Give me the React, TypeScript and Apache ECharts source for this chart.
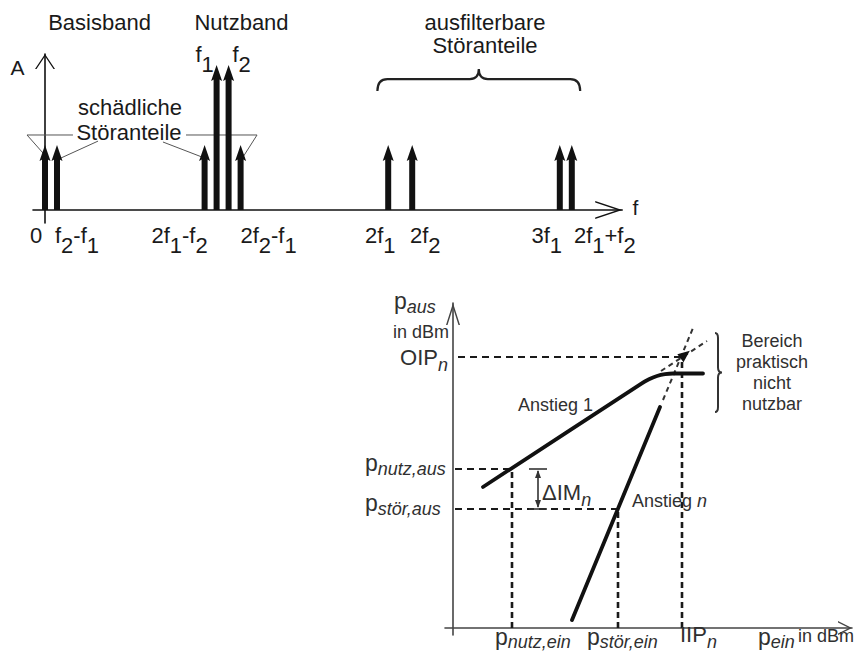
import { useEffect, useRef } from 'react';
import * as echarts from 'echarts';

const FF = "'Liberation Sans', Arial, Helvetica, sans-serif";
const INK = '#111111';
const TXT = '#1a1a1a';
const TXT2 = '#303030';

// ---------- upper diagram: spectrum (x in units of f2-f1, y = amplitude) ----------
const FREQS = [0, 1, 13.3, 14.3, 15.3, 16.3, 28.6, 30.6, 42.9, 43.9];
const AMPLITUDES = [1, 1, 1, 2.23, 2.23, 1, 1, 1, 1, 1];
const FREQ_LABELS = [
  '{m|0}',
  '{m|f}{s|2}{m|-f}{s|1}',
  '{m|2f}{s|1}{m|-f}{s|2}',
  '{m|f}{s|1}',
  '{m|f}{s|2}',
  '{m|2f}{s|2}{m|-f}{s|1}',
  '{m|2f}{s|1}',
  '{m|2f}{s|2}',
  '{m|3f}{s|1}',
  '{m|2f}{s|1}{m|+f}{s|2}',
];
// leader lines of "schädliche Störanteile" [x1, y1, x2, y2]
const HARMFUL_LEADERS = [
  [-1.5, 1.154, 2.33, 1.154],
  [11.75, 1.154, 17.67, 1.154],
  [-1.5, 1.154, -0.17, 0.877],
  [4.42, 1.06, 1.33, 0.8],
  [9.83, 1.046, 13.08, 0.815],
  [17.67, 1.154, 16.5, 0.815],
];
const FILTER_BRACE = [[27.7, 44.6, 1.83]];

// ---------- lower diagram: p_aus over p_ein (dBm, schematic) ----------
const LINE_1 = [[3.0, 14.1], [18.8, 24.42], [19.6, 24.88], [20.4, 25.2], [21.2, 25.38], [22.0, 25.45], [25.0, 25.45]];
const LINE_N = [[11.9, 0.8], [20.7, 22.1]];
const LINE_1_EXT = [20.8, 25.7, 25.4, 28.7];
const LINE_N_EXT = [21.0, 22.8, 24.0, 30.0];
const OIP = 27.1;
const IIP = 22.9;
const P_NUTZ_AUS = 15.9;
const P_NUTZ_EIN = 5.9;
const P_STOR_AUS = 11.9;
const P_STOR_EIN = 16.5;
const DELTA_IM = [[8.5, P_NUTZ_AUS, P_STOR_AUS, 7.6, 9.4]];
const UNUSABLE_BRACE = [[26.5, 29.5, 21.6]];
const Y_TICK_VALUES = [OIP, P_NUTZ_AUS, P_STOR_AUS];
const Y_TICK_LABELS = ['{P|OIP}{n|n}', '{p|p}{s|nutz,aus}', '{p|p}{s|stör,aus}'];
const X_TICK_VALUES = [P_NUTZ_EIN, P_STOR_EIN, IIP];
const X_TICK_LABELS = ['{p|p}{s|nutz,ein}', '{p|p}{s|stör,ein}', '{P|IIP}{n|n}'];

// layout of labels (pixels)
const TOP_LABEL_ABOVE = [false, false, false, true, true, false, false, false, false, false];
const TOP_LABEL_DX = [-9, 20, -25, -12, 13, 28, -8, 13, -13, 33];
const Y_LABEL_DX = [-5, -88, -88];
const Y_LABEL_ALIGN = ['right', 'left', 'left'];
const Y_LABEL_DY = [-10.4, -17.3, -17.3];
const X_LABEL_DX = [-17, -31, -2];
const X_LABEL_DY = [-2.8, -2.8, -4.4];

const TOP_RICH: any = {
  m: { fontSize: 22, fontFamily: FF, fill: TXT, verticalAlign: 'top' },
  s: { fontSize: 22, fontFamily: FF, fill: TXT, verticalAlign: 'top', padding: [10, 0, 0, 0] },
};
const BOT_RICH: any = {
  p: { fontSize: 23, fontFamily: FF, fill: TXT2, verticalAlign: 'top' },
  s: { fontSize: 18, fontFamily: FF, fontStyle: 'italic', fill: TXT2, verticalAlign: 'top', padding: [8, 0, 0, 0] },
  P: { fontSize: 22, fontFamily: FF, fill: TXT2, verticalAlign: 'top' },
  n: { fontSize: 18, fontFamily: FF, fontStyle: 'italic', fill: TXT2, verticalAlign: 'top', padding: [9, 0, 0, 0] },
  a: { fontSize: 18, fontFamily: FF, fill: TXT2, verticalAlign: 'top' },
  i: { fontSize: 18, fontFamily: FF, fontStyle: 'italic', fill: TXT2, verticalAlign: 'top' },
};

function chev(w: number, h: number, lw: number) {
  const H = (100 * h) / w;
  const t = (lw * 100) / w;
  const ti = (t * H) / 50;
  return `path://M0,${H}L50,0L100,${H}L${100 - t},${H}L50,${ti}L${t},${H}Z`;
}

function axisBase(extra: any) {
  return {
    type: 'value',
    axisTick: { show: false },
    axisLabel: { show: false },
    splitLine: { show: false },
    ...extra,
  };
}

function segSeries(grid: number, segs: number[][], style: any) {
  return {
    type: 'custom',
    xAxisIndex: grid,
    yAxisIndex: grid,
    silent: true,
    clip: false,
    data: segs,
    encode: { x: [0, 2], y: [1, 3] },
    renderItem: (_p: any, api: any) => {
      const a = api.coord([api.value(0), api.value(1)]);
      const b = api.coord([api.value(2), api.value(3)]);
      return { type: 'line', shape: { x1: a[0], y1: a[1], x2: b[0], y2: b[1] }, style: { ...style, fill: null } };
    },
  };
}

function txt(x: number, y: number, text: string, o: any = {}) {
  return {
    type: 'text',
    x,
    y,
    silent: true,
    z: 100,
    style: {
      text,
      fill: o.fill ?? TXT,
      fontSize: o.size ?? 22,
      fontFamily: FF,
      fontStyle: o.italic ? 'italic' : 'normal',
      align: o.align ?? 'center',
      verticalAlign: o.va ?? 'middle',
      rich: o.rich,
      lineHeight: o.lh,
    },
  };
}

export default function App() {
  const ref = useRef<HTMLDivElement>(null);

  useEffect(() => {
    if (!ref.current) return;
    const chart = echarts.init(ref.current, undefined, { renderer: 'svg' });

    const spikeSeries = {
      type: 'custom',
      xAxisIndex: 0,
      yAxisIndex: 0,
      silent: true,
      clip: false,
      data: FREQS.map((f, i) => [f, AMPLITUDES[i]]),
      encode: { x: 0, y: 1 },
      renderItem: (params: any, api: any) => {
        const i = params.dataIndex;
        const f = api.value(0);
        const a = api.value(1);
        const base = api.coord([f, 0]);
        const tip = api.coord([f, a]);
        const headLen = 16;
        const headW = 11;
        const shaftW = 6;
        return {
          type: 'group',
          children: [
            {
              type: 'rect',
              shape: { x: base[0] - shaftW / 2, y: tip[1] + headLen - 3, width: shaftW, height: base[1] - tip[1] - headLen + 3 },
              style: { fill: INK },
            },
            {
              type: 'polygon',
              shape: {
                points: [
                  [tip[0], tip[1]],
                  [tip[0] + headW / 2, tip[1] + headLen],
                  [tip[0], tip[1] + headLen - 3],
                  [tip[0] - headW / 2, tip[1] + headLen],
                ],
              },
              style: { fill: INK },
            },
            {
              type: 'text',
              x: base[0] + TOP_LABEL_DX[i],
              y: TOP_LABEL_ABOVE[i] ? tip[1] - 22 : base[1] + 14.5,
              style: {
                text: FREQ_LABELS[i],
                rich: TOP_RICH,
                align: 'center',
                verticalAlign: 'top',
                fill: TXT,
                fontSize: 22,
                fontFamily: FF,
              },
            },
          ],
        };
      },
    };

    const topBrace = {
      type: 'custom',
      xAxisIndex: 0,
      yAxisIndex: 0,
      silent: true,
      clip: false,
      data: FILTER_BRACE,
      encode: { x: [0, 1], y: 2 },
      renderItem: (_p: any, api: any) => {
        const a = api.coord([api.value(0), api.value(2)]);
        const b = api.coord([api.value(1), api.value(2)]);
        const xm = (a[0] + b[0]) / 2;
        const yb = a[1];
        const yl = yb - 12;
        const yt = yb - 22;
        const d = `M${a[0]},${yb} Q${a[0]},${yl} ${a[0] + 10},${yl} L${xm - 9},${yl} Q${xm},${yl} ${xm},${yt} Q${xm},${yl} ${xm + 9},${yl} L${b[0] - 10},${yl} Q${b[0]},${yl} ${b[0]},${yb}`;
        return { type: 'path', shape: { pathData: d }, style: { stroke: '#222', lineWidth: 2.2, fill: 'none' } };
      },
    };

    const rightBrace = {
      type: 'custom',
      xAxisIndex: 1,
      yAxisIndex: 1,
      silent: true,
      clip: false,
      data: UNUSABLE_BRACE,
      encode: { x: 0, y: [1, 2] },
      renderItem: (_p: any, api: any) => {
        const a = api.coord([api.value(0), api.value(1)]);
        const b = api.coord([api.value(0), api.value(2)]);
        const x = a[0];
        const ym = (a[1] + b[1]) / 2;
        const d = `M${x - 3},${a[1]} Q${x},${a[1]} ${x},${a[1] + 5} L${x},${ym - 5} Q${x},${ym} ${x + 4},${ym} Q${x},${ym} ${x},${ym + 5} L${x},${b[1] - 5} Q${x},${b[1]} ${x - 3},${b[1]}`;
        return { type: 'path', shape: { pathData: d }, style: { stroke: '#333', lineWidth: 2, fill: 'none' } };
      },
    };

    const deltaIm = {
      type: 'custom',
      xAxisIndex: 1,
      yAxisIndex: 1,
      silent: true,
      clip: false,
      data: DELTA_IM,
      encode: { x: [0, 3, 4], y: [1, 2] },
      renderItem: (_p: any, api: any) => {
        const t = api.coord([api.value(0), api.value(1)]);
        const b = api.coord([api.value(0), api.value(2)]);
        const c1 = api.coord([api.value(3), api.value(1)]);
        const c2 = api.coord([api.value(4), api.value(1)]);
        const x = t[0];
        const st = { stroke: '#333', lineWidth: 1.6 };
        return {
          type: 'group',
          children: [
            { type: 'line', shape: { x1: c1[0], y1: t[1], x2: c2[0], y2: t[1] }, style: st },
            { type: 'line', shape: { x1: c1[0], y1: b[1], x2: c2[0], y2: b[1] }, style: st },
            { type: 'line', shape: { x1: x, y1: t[1] + 2, x2: x, y2: b[1] - 2 }, style: st },
            { type: 'polygon', shape: { points: [[x, t[1] + 1], [x + 3, t[1] + 9], [x - 3, t[1] + 9]] }, style: { fill: '#333' } },
            { type: 'polygon', shape: { points: [[x, b[1] - 1], [x + 3, b[1] - 9], [x - 3, b[1] - 9]] }, style: { fill: '#333' } },
          ],
        };
      },
    };

    const interceptMark = {
      type: 'custom',
      xAxisIndex: 1,
      yAxisIndex: 1,
      silent: true,
      clip: false,
      data: [[IIP, OIP]],
      encode: { x: 0, y: 1 },
      renderItem: (_p: any, api: any) => {
        const p = api.coord([api.value(0), api.value(1)]);
        const u = [0.78, -0.62];
        const v = [0.62, 0.78];
        const pts = [
          [p[0] + 10 * u[0], p[1] + 10 * u[1]],
          [p[0] - 2 * u[0] + 5 * v[0], p[1] - 2 * u[1] + 5 * v[1]],
          [p[0] - 2 * u[0] - 5 * v[0], p[1] - 2 * u[1] - 5 * v[1]],
        ];
        return { type: 'polygon', shape: { points: pts }, style: { fill: INK } };
      },
    };

    const yTickLabels = {
      type: 'custom',
      xAxisIndex: 1,
      yAxisIndex: 1,
      silent: true,
      clip: false,
      data: Y_TICK_VALUES.map((v) => [0, v]),
      encode: { x: 0, y: 1 },
      renderItem: (params: any, api: any) => {
        const i = params.dataIndex;
        const pt = api.coord([api.value(0), api.value(1)]);
        return {
          type: 'text',
          x: pt[0] + Y_LABEL_DX[i],
          y: pt[1] + Y_LABEL_DY[i],
          style: { text: Y_TICK_LABELS[i], rich: BOT_RICH, align: Y_LABEL_ALIGN[i], verticalAlign: 'top', fill: TXT2, fontSize: 22, fontFamily: FF },
        };
      },
    };

    const xTickLabels = {
      type: 'custom',
      xAxisIndex: 1,
      yAxisIndex: 1,
      silent: true,
      clip: false,
      data: X_TICK_VALUES.map((v) => [v, 0]),
      encode: { x: 0, y: 1 },
      renderItem: (params: any, api: any) => {
        const i = params.dataIndex;
        const pt = api.coord([api.value(0), api.value(1)]);
        return {
          type: 'text',
          x: pt[0] + X_LABEL_DX[i],
          y: pt[1] + X_LABEL_DY[i],
          style: { text: X_TICK_LABELS[i], rich: BOT_RICH, align: 'left', verticalAlign: 'top', fill: TXT2, fontSize: 22, fontFamily: FF },
        };
      },
    };

    const guidesH = [
      [0.5, OIP, IIP, OIP],
      [0.2, P_NUTZ_AUS, P_NUTZ_EIN, P_NUTZ_AUS],
      [0.2, P_STOR_AUS, P_STOR_EIN, P_STOR_AUS],
    ];
    const guidesV = [
      [IIP, 0, IIP, OIP],
      [P_NUTZ_EIN, 0, P_NUTZ_EIN, P_NUTZ_AUS],
      [P_STOR_EIN, 0, P_STOR_EIN, P_STOR_AUS],
    ];

    const option: any = {
      animation: false,
      backgroundColor: '#ffffff',
      grid: [
        { left: 33, top: 54, width: 589.2, height: 169 },
        { left: 445, top: 303, width: 407, height: 332 },
      ],
      xAxis: [
        axisBase({
          gridIndex: 0,
          min: -1,
          max: 48.1,
          axisLine: { onZero: true, symbol: ['none', chev(18, 27, 1.5)], symbolSize: [18, 27], symbolOffset: [0, -13.5], lineStyle: { color: INK, width: 1.6 } },
        }),
        axisBase({
          gridIndex: 1,
          min: -0.8,
          max: 39.9,
          axisLine: { onZero: true, symbol: ['none', chev(14, 14, 1.5)], symbolSize: [14, 14], symbolOffset: [0, -7], lineStyle: { color: '#444', width: 1.6 } },
        }),
      ],
      yAxis: [
        axisBase({
          gridIndex: 0,
          min: -0.2,
          max: 2.4,
          axisLine: { onZero: true, symbol: ['none', chev(20, 15, 1.5)], symbolSize: [20, 15], symbolOffset: [0, -7.5], lineStyle: { color: INK, width: 1.6 } },
        }),
        axisBase({
          gridIndex: 1,
          min: -0.7,
          max: 32.5,
          axisLine: { onZero: true, symbol: ['none', chev(14, 22, 1.5)], symbolSize: [14, 22], symbolOffset: [0, -11], lineStyle: { color: '#444', width: 1.6 } },
        }),
      ],
      series: [
        segSeries(0, HARMFUL_LEADERS, { stroke: '#555', lineWidth: 1 }),
        spikeSeries,
        topBrace,
        segSeries(1, guidesH, { stroke: '#1a1a1a', lineWidth: 2.2, lineDash: [7, 5] }),
        segSeries(1, guidesV, { stroke: '#1a1a1a', lineWidth: 2.6, lineDash: [6, 4] }),
        segSeries(1, [LINE_1_EXT, LINE_N_EXT], { stroke: '#333', lineWidth: 2, lineDash: [5, 4] }),
        {
          type: 'line',
          name: 'Anstieg 1',
          xAxisIndex: 1,
          yAxisIndex: 1,
          data: LINE_1,
          smooth: 0.2,
          symbol: 'none',
          showSymbol: false,
          silent: true,
          lineStyle: { color: INK, width: 3.8, cap: 'round' },
        },
        {
          type: 'line',
          name: 'Anstieg n',
          xAxisIndex: 1,
          yAxisIndex: 1,
          data: LINE_N,
          symbol: 'none',
          showSymbol: false,
          silent: true,
          lineStyle: { color: INK, width: 3.8, cap: 'round' },
        },
        deltaIm,
        interceptMark,
        rightBrace,
        yTickLabels,
        xTickLabels,
      ],
      graphic: [
        txt(99.5, 22.3, 'Basisband'),
        txt(241.5, 22.3, 'Nutzband'),
        txt(485, 22.3, 'ausfilterbare'),
        txt(485, 45.3, 'Störanteile'),
        txt(130, 107.3, 'schädliche'),
        txt(129, 132.3, 'Störanteile'),
        txt(17.5, 67.6, 'A', { size: 21 }),
        txt(635.5, 207.6, 'f', { size: 21 }),
        txt(394, 289.7, '{p|p}{s|aus}', { align: 'left', va: 'top', rich: BOT_RICH, fill: TXT2 }),
        txt(421, 332, 'in dBm', { size: 18, fill: TXT2 }),
        txt(772, 372.5, 'Bereich\npraktisch\nnicht\nnutzbar', { size: 18, lh: 21, fill: TXT2 }),
        txt(518, 404.7, 'Anstieg 1', { size: 18, align: 'left', fill: TXT2 }),
        txt(632, 491.7, '{a|Anstieg }{i|n}', { align: 'left', va: 'top', rich: BOT_RICH, fill: TXT2 }),
        txt(542, 481.6, '{P|ΔIM}{n|n}', { align: 'left', va: 'top', rich: BOT_RICH, fill: TXT2 }),
        txt(758, 625.2, '{p|p}{s|ein}', { align: 'left', va: 'top', rich: BOT_RICH, fill: TXT2 }),
        txt(798, 636, 'in dBm', { size: 18, align: 'left', fill: TXT2 }),
      ],
    };

    chart.setOption(option);
    return () => {
      chart.dispose();
    };
  }, []);

  return (
    <div
      ref={ref}
      style={{ position: 'absolute', left: 0, top: 0, width: 863, height: 666, background: '#fff' }}
    />
  );
}
